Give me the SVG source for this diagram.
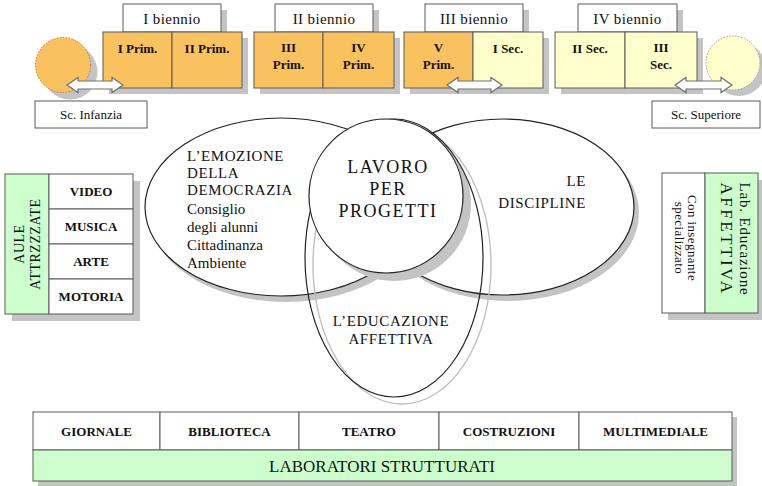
<svg xmlns="http://www.w3.org/2000/svg" width="762" height="486" viewBox="0 0 762 486">
<style>
text{fill:#111;font-family:'Liberation Serif','Times New Roman',serif;}
.b{font-weight:bold;font-size:13px;text-anchor:middle;}
.lab{font-size:15px;text-anchor:middle;letter-spacing:0.4px;}
.sm{font-size:13px;text-anchor:middle;}
.sh{fill:#c4c4c4;stroke:none;}
.box{stroke:#5a5a5a;stroke-width:1;}
.or{fill:#f9c25f;}
.ye{fill:#ffffcc;}
.gr{fill:#ccffcc;}
.wh{fill:#ffffff;}
.arr{fill:#ffffff;stroke:#707070;stroke-width:1.2;}
.ell{fill:#ffffff;stroke:#222;stroke-width:1.2;}
.t15{font-size:15px;}
</style>
<rect width="762" height="486" fill="#ffffff"/>

<g id="emozione">
<ellipse cx="286" cy="213" rx="137" ry="89" class="sh"/>
<ellipse cx="281" cy="207" rx="136" ry="89" class="ell"/>
<text class="t15" x="187" y="161" letter-spacing="0.6">L’EMOZIONE</text>
<text class="t15" x="187" y="178" letter-spacing="0.6">DELLA</text>
<text class="t15" x="187" y="195" letter-spacing="0.6">DEMOCRAZIA</text>
<text class="t15" x="187" y="214">Consiglio</text>
<text class="t15" x="187" y="232">degli alunni</text>
<text class="t15" x="187" y="250">Cittadinanza</text>
<text class="t15" x="187" y="268">Ambiente</text>
</g>
<g id="discipline">
<ellipse cx="508" cy="213" rx="131" ry="88" class="sh"/>
<ellipse cx="503" cy="207" rx="131" ry="88" class="ell"/>
<text class="t15" x="586" y="186" text-anchor="end" letter-spacing="0.6">LE</text>
<text class="t15" x="586" y="208" text-anchor="end" letter-spacing="0.6">DISCIPLINE</text>
</g>
<g id="educazione">
<circle cx="394" cy="204" r="77" class="sh"/>
<ellipse cx="402" cy="265" rx="89" ry="139" fill="none" stroke="#c0c0c0" stroke-width="1.4"/>
<ellipse cx="394" cy="258" rx="89" ry="139" fill="none" stroke="#222" stroke-width="1.2"/>
<text class="t15" x="391" y="326" text-anchor="middle" letter-spacing="0.6">L’EDUCAZIONE</text>
<text class="t15" x="391" y="344" text-anchor="middle" letter-spacing="0.6">AFFETTIVA</text>
</g>
<g id="progetti">
<circle cx="386" cy="196" r="77" class="ell"/>
<text x="388" y="173" font-size="18" text-anchor="middle" letter-spacing="1.5">LAVORO</text>
<text x="388" y="195" font-size="18" text-anchor="middle" letter-spacing="1.5">PER</text>
<text x="388" y="217" font-size="18" text-anchor="middle" letter-spacing="1.5">PROGETTI</text>
</g>

<g id="infanzia-circle">
<circle cx="70" cy="72" r="27.5" class="sh"/>
<circle cx="63" cy="65" r="27.5" class="or" stroke="#b08030" stroke-width="1" stroke-dasharray="1.5,1.5"/>
</g>
<g id="biennio1">
<rect x="129" y="10" width="98" height="28" class="sh"/>
<rect x="123" y="4" width="98" height="28" class="wh box"/>
<text class="lab" x="172" y="24">I biennio</text>
<rect x="109" y="38" width="139" height="56" class="sh"/>
<rect x="103" y="32" width="69" height="56" class="or box"/>
<rect x="172" y="32" width="70" height="56" class="or box"/>
<text class="b" x="137.5" y="53">I Prim.</text>
<text class="b" x="207" y="53">II Prim.</text>
</g>
<g id="biennio2">
<rect x="281" y="10" width="98" height="28" class="sh"/>
<rect x="275" y="4" width="98" height="28" class="wh box"/>
<text class="lab" x="324" y="24">II biennio</text>
<rect x="260" y="38" width="140" height="56" class="sh"/>
<rect x="254" y="32" width="69" height="56" class="or box"/>
<rect x="323" y="32" width="71" height="56" class="or box"/>
<text class="b" x="288.5" y="52">III</text>
<text class="b" x="288.5" y="69">Prim.</text>
<text class="b" x="358.5" y="52">IV</text>
<text class="b" x="358.5" y="69">Prim.</text>
</g>
<g id="biennio3">
<rect x="431" y="10" width="98" height="28" class="sh"/>
<rect x="425" y="4" width="98" height="28" class="wh box"/>
<text class="lab" x="474" y="24">III biennio</text>
<rect x="410" y="38" width="139" height="56" class="sh"/>
<rect x="404" y="32" width="69" height="56" class="or box"/>
<rect x="473" y="32" width="70" height="56" class="ye box"/>
<text class="b" x="438.5" y="52">V</text>
<text class="b" x="438.5" y="69">Prim.</text>
<text class="b" x="508" y="53">I Sec.</text>
</g>
<g id="biennio4">
<rect x="584" y="10" width="99" height="28" class="sh"/>
<rect x="578" y="4" width="99" height="28" class="wh box"/>
<text class="lab" x="627.5" y="24">IV biennio</text>
<rect x="561" y="38" width="142" height="56" class="sh"/>
<rect x="555" y="32" width="70" height="56" class="ye box"/>
<rect x="625" y="32" width="72" height="56" class="ye box"/>
<text class="b" x="590" y="53">II Sec.</text>
<text class="b" x="661" y="52">III</text>
<text class="b" x="661" y="69">Sec.</text>
</g>
<g id="superiore-circle">
<circle cx="739" cy="69" r="27" class="sh"/>
<circle cx="733" cy="63" r="27" class="ye" stroke="#999" stroke-width="1" stroke-dasharray="1.5,1.5"/>
</g>

<g id="connectors">
<path class="arr" d="M67 85 L78 77.5 L78 81 L112 81 L112 77.5 L123 85 L112 92.5 L112 89 L78 89 L78 92.5 Z"/>
<path class="arr" d="M447 85 L458 77.5 L458 81 L491 81 L491 77.5 L502 85 L491 92.5 L491 89 L458 89 L458 92.5 Z"/>
<path class="arr" d="M675 85 L686 77.5 L686 81 L721 81 L721 77.5 L732 85 L721 92.5 L721 89 L686 89 L686 92.5 Z"/>
</g>

<g id="infanzia">
<rect x="35" y="101" width="112" height="27" class="wh box"/>
<text class="sm" x="91" y="119">Sc. Infanzia</text>
</g>
<g id="superiore">
<rect x="652" y="101" width="108" height="27" class="wh box"/>
<text class="sm" x="706" y="119">Sc. Superiore</text>
</g>

<g id="aule">
<rect x="12" y="181" width="128" height="140" class="sh"/>
<rect x="5" y="174" width="44" height="140" class="gr box"/>
<rect x="49" y="174" width="84" height="35" class="wh box"/>
<rect x="49" y="209" width="84" height="35" class="wh box"/>
<rect x="49" y="244" width="84" height="35" class="wh box"/>
<rect x="49" y="279" width="84" height="35" class="wh box"/>
<text class="b" x="91" y="196">VIDEO</text>
<text class="b" x="91" y="231">MUSICA</text>
<text class="b" x="91" y="266">ARTE</text>
<text class="b" x="91" y="301">MOTORIA</text>
<g transform="translate(27,244) rotate(-90)">
<text x="0" y="-3" font-size="14" text-anchor="middle" letter-spacing="0.5">AULE</text>
<text x="0" y="13" font-size="14" text-anchor="middle" letter-spacing="0.5">ATTRZZZATE</text>
</g>
</g>

<g id="affettiva">
<rect x="668" y="180" width="96" height="140" class="sh"/>
<rect x="662" y="173" width="43" height="140" class="wh box"/>
<rect x="705" y="173" width="53" height="140" class="gr box"/>
<g transform="translate(731,239) rotate(90)">
<text x="0" y="-9" font-size="15" text-anchor="middle" letter-spacing="0.8">Lab. Educazione</text>
<text x="0" y="10" font-size="17" text-anchor="middle" letter-spacing="2.5">AFFETTIVA</text>
</g>
<g transform="translate(684,238) rotate(90)">
<text x="0" y="-4" font-size="13" text-anchor="middle" letter-spacing="0.4">Con insegnante</text>
<text x="0" y="9" font-size="13" text-anchor="middle" letter-spacing="0.4">specializzato</text>
</g>
</g>

<g id="laboratori">
<rect x="38" y="417" width="699" height="69" class="sh"/>
<rect x="33" y="412" width="127" height="38" class="wh box"/>
<rect x="160" y="412" width="139" height="38" class="wh box"/>
<rect x="299" y="412" width="140" height="38" class="wh box"/>
<rect x="439" y="412" width="140" height="38" class="wh box"/>
<rect x="579" y="412" width="153" height="38" class="wh box"/>
<rect x="33" y="450" width="699" height="31" class="gr box"/>
<text class="b" x="96.5" y="436">GIORNALE</text>
<text class="b" x="229.5" y="436">BIBLIOTECA</text>
<text class="b" x="369" y="436">TEATRO</text>
<text class="b" x="509" y="436">COSTRUZIONI</text>
<text class="b" x="655.5" y="436">MULTIMEDIALE</text>
<text x="382" y="472" font-size="17" text-anchor="middle">LABORATORI STRUTTURATI</text>
</g>
</svg>
